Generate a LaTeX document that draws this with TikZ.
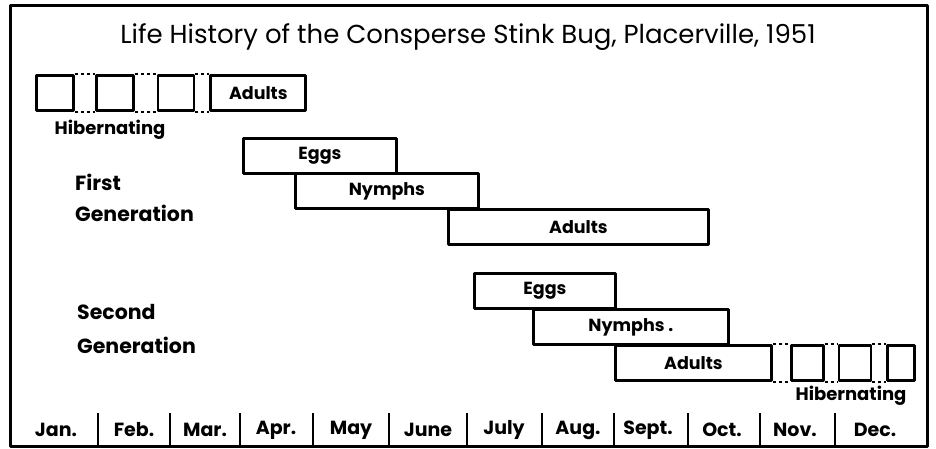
\documentclass[tikz,border=0pt]{standalone}
\usepackage{fontspec}
\setmainfont{Poppins}
\usetikzlibrary{positioning}
\tikzset{
  stage/.style={draw, line width=2.8pt, rectangle, inner sep=0pt, anchor=north west,
    minimum height=35, font=\fontsize{17.5}{17.5}\bfseries},
  rest/.style={stage, minimum width=37},
  link/.style={line width=2pt, dash pattern=on 3pt off 3pt},
  gen/.style={anchor=west, inner sep=0pt, font=\fontsize{20.5}{20.5}\bfseries},
  month/.style={font=\fontsize{19}{19}\bfseries},
  tick/.style={line width=2.4pt}
}
\begin{document}
\begin{tikzpicture}[x=1pt, y=-1pt, line join=round]
\useasboundingbox (0,0) rectangle (936,449);
\draw[line width=3pt] (10,6) rectangle (927,446);
\node[font=\fontsize{26}{26}\selectfont] (title) at (468,37)
  {Life History of the Consperse Stink Bug, Placerville, 1951};

% wintering adults
\node[rest] (hibA1) at (35,74) {};
\node[rest, right=20pt of hibA1] (hibA2) {};
\node[rest, minimum width=36, right=22pt of hibA2] (hibA3) {};
\node[stage, minimum width=95, right=14pt of hibA3] (adultsO) {Adults};
\node[font=\fontsize{18}{18}\bfseries] (hibLeft) at (110,130) {Hibernating};

% first generation
\node[gen] (first) at (75,182) {First};
\node[gen] (firstGen) at (75,213) {Generation};
\node[stage, minimum width=153] (eggsA) at (242,137) {Eggs};
\node[stage, minimum width=183] (nymphsA) at (294,172) {Nymphs};
\node[stage, minimum width=260] (adultsA) at (447,208) {Adults};

% second generation
\node[gen] (second) at (77,312) {Second};
\node[gen] (secondGen) at (77,345) {Generation};
\node[stage, minimum width=141] (eggsB) at (473,272) {Eggs};
\node[stage, minimum width=195] (nymphsB) at (532,308) {Nymphs .};
\node[stage, minimum width=156] (adultsB) at (614,344) {Adults};
\node[rest, minimum width=32, right=17pt of adultsB] (hibB1) {};
\node[rest, minimum width=32, right=13pt of hibB1] (hibB2) {};
\node[rest, minimum width=27, right=14pt of hibB2] (hibB3) {};
\node[font=\fontsize{18}{18}\bfseries] (hibRight) at (851,396) {Hibernating};

\foreach \a/\b in {hibA1/hibA2, hibA2/hibA3, hibA3/adultsO,
                   adultsB/hibB1, hibB1/hibB2, hibB2/hibB3} {
  \draw[link] (\a.north east) -- (\b.north west);
  \draw[link] (\a.south east) -- (\b.south west);
}

% months
\foreach \t in {98,170,240,313,389,467,542,614,688,760,835}
  \draw[tick] (\t,413) -- (\t,446);
\foreach \m/\x [count=\i] in {Jan./56, Feb./134, Mar./205, Apr./276, May/351,
    June/428, July/504, Aug./578, Sept./648, Oct./722, Nov./795, Dec./875}
  \node[month] (mon\i) at (\x,430) {\m};
\end{tikzpicture}
\end{document}
